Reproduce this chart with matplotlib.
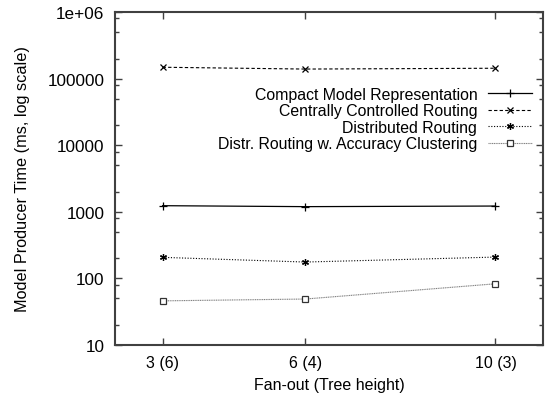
import matplotlib
matplotlib.use("Agg")
import matplotlib.pyplot as plt
from matplotlib.ticker import LogLocator, FixedLocator, NullFormatter
import numpy as np

plt.rcParams['font.family'] = ['Liberation Sans', 'DejaVu Sans']

fanout = [3, 6, 10]
tick_labels = ['3 (6)', '6 (4)', '10 (3)']

compact = [1235, 1195, 1220]
central = [148000, 139000, 143000]
distributed = [207, 176, 209]
clustering = [46, 49, 83]

fig = plt.figure(figsize=(5.48, 4.02), dpi=100)
ax = fig.add_axes([0.2099, 0.1393, 0.7810, 0.8284])

ax.plot(fanout, compact, color='black', lw=0.9, marker='+', ms=6, mew=0.9,
        label='Compact Model Representation')
ax.plot(fanout, central, color='black', lw=0.8, ls=(0, (3, 2)), marker='x', ms=4, mew=0.9,
        label='Centrally Controlled Routing')
ax.plot(fanout, distributed, color='black', lw=0.8, ls=(0, (1, 1.5)), marker=(6, 2, 0), ms=5, mew=0.9,
        label='Distributed Routing')
ax.plot(fanout, clustering, color='0.5', lw=0.8, ls=(0, (1, 0.6)), marker='s', ms=4.5,
        mfc='white', mec='0.2', mew=0.9,
        label='Distr. Routing w. Accuracy Clustering')

ax.set_yscale('log')
ax.set_xlim(2, 11)
ax.set_ylim(10, 1e6)

ax.set_xticks(fanout)
ax.set_xticklabels(tick_labels)
ax.xaxis.set_minor_locator(FixedLocator([]))

yt = [10, 100, 1000, 10000, 100000, 1000000]
ax.set_yticks(yt)
ax.set_yticklabels(['10', '100', '1000', '10000', '100000', '1e+06'])
ax.yaxis.set_minor_locator(LogLocator(base=10, subs=[2, 5, 8]))
ax.yaxis.set_minor_formatter(NullFormatter())

ax.tick_params(which='both', direction='in', top=True, right=True, colors='0.25',
               labelcolor='black', width=1.0)
ax.tick_params(which='major', length=5)
ax.tick_params(which='minor', length=3)
ax.tick_params(axis='x', labelsize=11.5, pad=7)
ax.tick_params(axis='y', labelsize=12.3, pad=7.5)
for s in ax.spines.values():
    s.set_linewidth(1.5)
    s.set_color('0.25')

ax.set_xlabel('Fan-out (Tree height)', fontsize=11.5, labelpad=5)
ax.set_ylabel('Model Producer Time (ms, log scale)', fontsize=11.7, labelpad=13)

ax.legend(loc='upper right', bbox_to_anchor=(0.974, 0.776), frameon=False, markerfirst=False,
          fontsize=11.4, handlelength=2.8, handletextpad=0.65, labelspacing=0.1, borderpad=0,
          borderaxespad=0)

fig.savefig('out.png', dpi=100)
